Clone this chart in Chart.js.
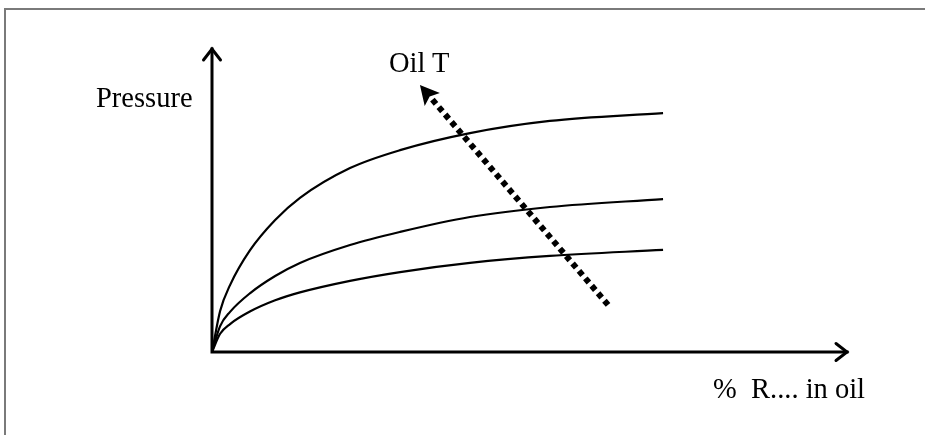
<!DOCTYPE html>
<html>
<head>
<meta charset="utf-8">
<script src="https://cdn.jsdelivr.net/npm/chart.js@4"></script>
<style>
  html, body { margin: 0; padding: 0; background: #fff; }
  #wrap { position: relative; width: 925px; height: 435px; overflow: hidden; background: #fff; }
  #frame { position: absolute; left: 4px; top: 8px; right: -10px; bottom: -10px;
           border-top: 2px solid #7a7a7a; border-left: 2px solid #7a7a7a; }
  canvas { position: absolute; left: 0; top: 0; }
  .lbl { position: absolute; font-family: "Liberation Serif", "Times New Roman", serif;
         font-size: 28.5px; line-height: 28px; color: #000; white-space: pre; }
</style>
</head>
<body>
<div id="wrap">
  <div id="frame"></div>
  <canvas id="c" width="925" height="435"></canvas>
  <div class="lbl" id="ylab" style="left:96px; top:84px;"></div>
  <div class="lbl" id="alab" style="left:389px; top:49px;"></div>
  <div class="lbl" id="xlab" style="left:713px; top:375px;"></div>
</div>
<script>
// ---- data (units: x = % R in oil, y = pressure, arbitrary) ----
const xValues      = [0, 1.8, 4, 8.4, 14, 19.5, 30.6, 41.7, 57.2, 74.9, 100];
const highTCurve   = [0, 13.5, 22, 33.4, 43.4, 50.7, 60.5, 66.4, 72, 76, 78.6];
const midTCurve    = [0, 8.5, 13.2, 19.3, 25.0, 29.3, 35.2, 39.5, 44.4, 47.7, 50.3];
const lowTCurve    = [0, 6.0, 9.2, 13.3, 17.0, 19.6, 23.4, 26.3, 29.3, 31.6, 33.6];
const axisMax      = { x: 141, y: 100 };
const oilTArrow    = [[87.8, 15.5], [46.1, 87.8]]; // tail, head
const yAxisLabel   = "Pressure";
const arrowLabel   = "Oil T";
const xAxisLabel   = "% \u00A0R.... in oil";

document.getElementById('ylab').textContent = yAxisLabel;
document.getElementById('alab').textContent = arrowLabel;
document.getElementById('xlab').textContent = xAxisLabel;

const toPts = ys => xValues.map((x, i) => ({ x: x, y: ys[i] }));

const sketchPlugin = {
  id: 'sketch',
  afterDatasetsDraw(chart) {
    const ctx = chart.ctx;
    const xs = chart.scales.x, ys = chart.scales.y;
    const ox = xs.getPixelForValue(0), oy = ys.getPixelForValue(0);
    const xe = xs.getPixelForValue(axisMax.x), ye = ys.getPixelForValue(axisMax.y);
    ctx.save();
    ctx.strokeStyle = '#000';
    ctx.fillStyle = '#000';
    ctx.lineWidth = 3;
    ctx.lineCap = 'square';
    // axes
    ctx.beginPath();
    ctx.moveTo(ox, ye + 1); ctx.lineTo(ox, oy); ctx.lineTo(xe - 1, oy);
    ctx.stroke();
    ctx.lineCap = 'round';
    ctx.lineJoin = 'miter';
    // y arrow head
    ctx.beginPath();
    ctx.moveTo(ox - 8.5, ye + 12); ctx.lineTo(ox, ye + 1); ctx.lineTo(ox + 8.5, ye + 12);
    ctx.stroke();
    // x arrow head
    ctx.beginPath();
    ctx.moveTo(xe - 12, oy - 8.5); ctx.lineTo(xe - 1, oy); ctx.lineTo(xe - 12, oy + 8.5);
    ctx.stroke();
    // dotted arrow
    const tx = xs.getPixelForValue(oilTArrow[0][0]), ty = ys.getPixelForValue(oilTArrow[0][1]);
    const hx = xs.getPixelForValue(oilTArrow[1][0]), hy = ys.getPixelForValue(oilTArrow[1][1]);
    const ang = Math.atan2(hy - ty, hx - tx);
    const len = Math.hypot(hx - tx, hy - ty);
    ctx.translate(tx, ty);
    ctx.rotate(ang);
    ctx.lineCap = 'butt';
    ctx.lineWidth = 6;
    ctx.setLineDash([5.5, 4.3]);
    ctx.beginPath();
    ctx.moveTo(0, 0); ctx.lineTo(len - 16, 0);
    ctx.stroke();
    ctx.setLineDash([]);
    ctx.beginPath();
    ctx.moveTo(len, 0);
    ctx.lineTo(len - 19, -10);
    ctx.lineTo(len - 15, 0);
    ctx.lineTo(len - 19, 10);
    ctx.closePath();
    ctx.fill();
    ctx.restore();
  }
};

const ds = (d) => ({ data: toPts(d), borderColor: '#000', borderWidth: 2.2, pointRadius: 0,
                     fill: false, cubicInterpolationMode: 'monotone' });

new Chart(document.getElementById('c'), {
  type: 'line',
  data: { datasets: [ds(highTCurve), ds(midTCurve), ds(lowTCurve)] },
  options: {
    responsive: false,
    animation: false,
    devicePixelRatio: 1,
    layout: { padding: { left: 212, right: 77, top: 48, bottom: 83 } },
    plugins: { legend: { display: false }, tooltip: { enabled: false } },
    scales: {
      x: { type: 'linear', min: 0, max: axisMax.x, display: false },
      y: { type: 'linear', min: 0, max: axisMax.y, display: false }
    }
  },
  plugins: [sketchPlugin]
});
</script>
</body>
</html>
